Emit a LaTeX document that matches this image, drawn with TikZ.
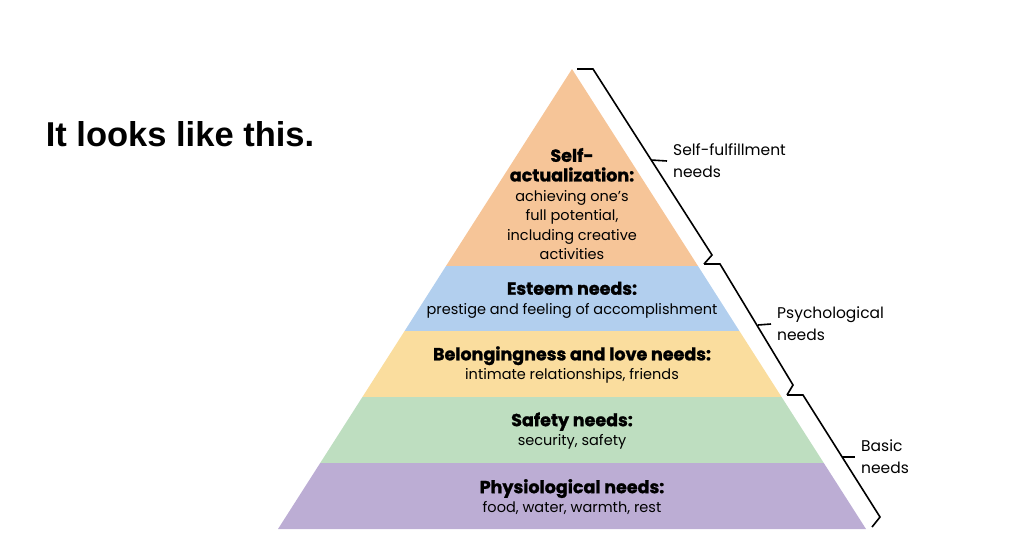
\documentclass[tikz,border=0pt]{standalone}
\usepackage{fontspec}
\usepackage{tikz}
\usetikzlibrary{calc}
\newfontfamily\titlefont{Liberation Sans}
\newfontfamily\pyrfont[BoldFeatures={FakeBold=1.2}]{Poppins}
\newcommand{\layerhead}[1]{{\bfseries\fontsize{17.5}{19.6}\selectfont #1}}
\definecolor{Self_layer}{RGB}{246, 197, 152}
\definecolor{Esteem_layer}{RGB}{178, 207, 238}
\definecolor{Love_layer}{RGB}{250, 221, 158}
\definecolor{Safety_layer}{RGB}{190, 222, 192}
\definecolor{Body_layer}{RGB}{188, 173, 212}

\begin{document}
\begin{tikzpicture}[x=1pt, y=-1pt,
    layertext/.style={align=center, inner sep=0pt, font=\pyrfont\fontsize{14.5}{19.6}\selectfont},
    sidetext/.style={align=left, anchor=west, inner sep=0pt, font=\pyrfont\fontsize{15.5}{22}\selectfont},
    bracket/.style={line width=1.6pt, line join=miter}]
    \useasboundingbox (0,0) rectangle (1024,558);

    %% Title
    \node[font=\titlefont\bfseries\fontsize{34.5}{40}\selectfont, inner sep=0pt] (title) at (180,134) {It looks like this.};

    %% Pyramid layers
    \fill[Self_layer] (572,69) -- (698,266) -- (446,266) -- cycle;
    \fill[Esteem_layer] (446,266) -- (698,266) -- (739.4,331) -- (404.6,331) -- cycle;
    \fill[Love_layer] (404.6,331) -- (739.4,331) -- (781.6,397) -- (362.4,397) -- cycle;
    \fill[Safety_layer] (362.4,397) -- (781.6,397) -- (823.8,463) -- (320.2,463) -- cycle;
    \fill[Body_layer] (320.2,463) -- (823.8,463) -- (866,529) -- (278,529) -- cycle;

    %% Layer texts
    \node[layertext] (self) at (572,204)
        {\layerhead{Self-}\\\layerhead{actualization:}\\achieving one’s\\full potential,\\including creative\\activities};
    \node[layertext] (esteem) at (572,300)
        {\layerhead{Esteem needs:}\\prestige and feeling of accomplishment};
    \node[layertext] (love) at (572,365)
        {\layerhead{Belongingness and love needs:}\\intimate relationships, friends};
    \node[layertext] (safety) at (572,431)
        {\layerhead{Safety needs:}\\security, safety};
    \node[layertext] (body) at (572,497)
        {\layerhead{Physiological needs:}\\food, water, warmth, rest};

    %% Side labels
    \node[sidetext] (fulfil) at (673,161) {Self-fulfillment\\needs};
    \node[sidetext] (psych) at (777,324) {Psychological\\needs};
    \node[sidetext] (basic) at (861,457) {Basic\\needs};

    %% Brackets
    \coordinate (fulfiltick) at (651,160);
    \coordinate (psychtick) at (758,325);
    \coordinate (basictick) at (842,457);
    \draw[bracket] (577,69) -- (593,69) -- (712,255) -- (704,264);
    \draw[bracket] (704,264) -- (720,264) -- (793,385) -- (787,395);
    \draw[bracket] (787,395) -- (803,395) -- (880,517) -- (872,527);
    \draw[bracket] (fulfiltick) -- ($(fulfil.west)+(-6,0)$);
    \draw[bracket] (psychtick) -- ($(psych.west)+(-6,0)$);
    \draw[bracket] (basictick) -- ($(basic.west)+(-6,0)$);

\end{tikzpicture}
\end{document}
